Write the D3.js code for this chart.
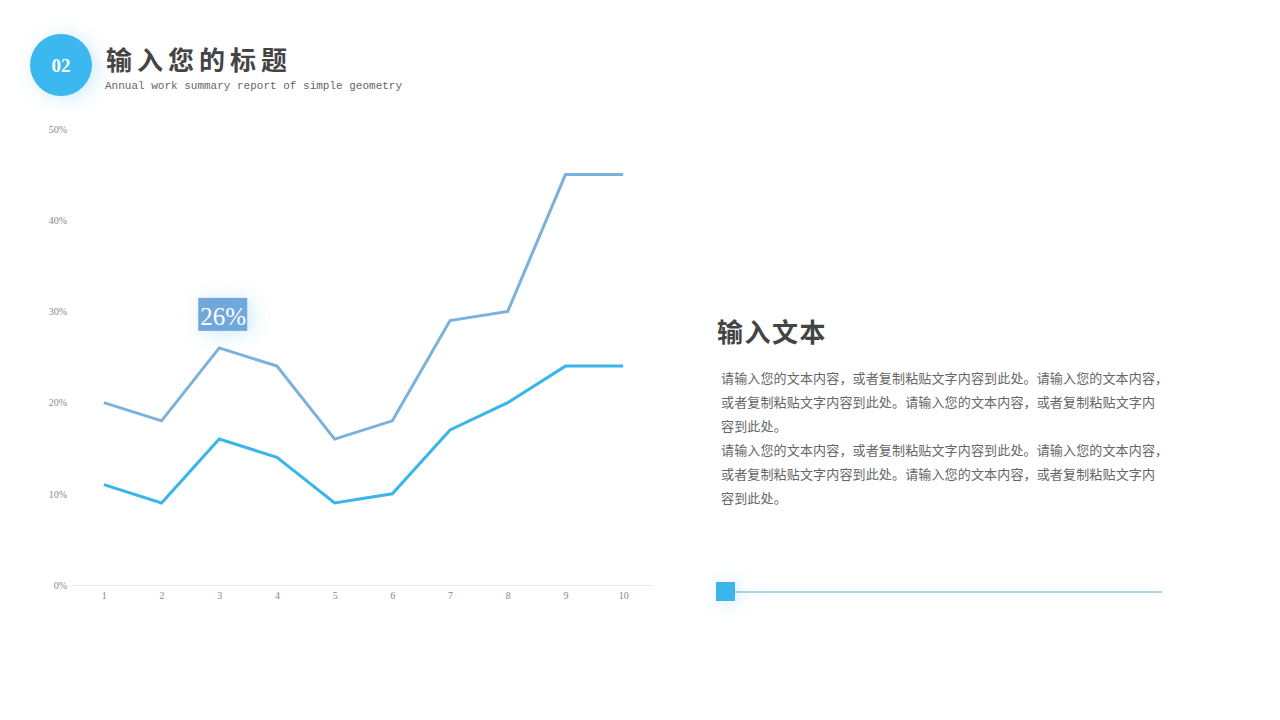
<!DOCTYPE html>
<html>
<head>
<meta charset="utf-8">
<script src="https://cdn.jsdelivr.net/npm/d3@7"></script>
<style>
  html, body { margin: 0; padding: 0; background: #fff; }
  svg { display: block; }
</style>
</head>
<body>
<div id="chart"></div>
<script>
// chart data
const categories = ["1", "2", "3", "4", "5", "6", "7", "8", "9", "10"];
const seriesUpper = [20, 18, 26, 24, 16, 18, 29, 30, 45, 45];
const seriesLower = [11, 9, 16, 14, 9, 10, 17, 20, 24, 24];
const yTicks = [0, 10, 20, 30, 40, 50];
const calloutIndex = 2; // the "26%" label sits over point 3 of the upper line

const bodyLines = [
  "请输入您的文本内容，或者复制粘贴文字内容到此处。请输入您的文本内容，",
  "或者复制粘贴文字内容到此处。请输入您的文本内容，或者复制粘贴文字内",
  "容到此处。",
  "请输入您的文本内容，或者复制粘贴文字内容到此处。请输入您的文本内容，",
  "或者复制粘贴文字内容到此处。请输入您的文本内容，或者复制粘贴文字内",
  "容到此处。"
];

const w = 1280,
  h = 720;
const cjk = "'Noto Sans CJK SC', 'Noto Sans', sans-serif";

const svg = d3.select("#chart").append("svg")
  .attr("width", w)
  .attr("height", h);

// soft glow used by the badge, the callout and the little square
const defs = svg.append("defs");
const glow = defs.append("filter")
  .attr("id", "glow")
  .attr("x", "-100%").attr("y", "-100%")
  .attr("width", "300%").attr("height", "300%");
glow.append("feGaussianBlur")
  .attr("in", "SourceAlpha")
  .attr("stdDeviation", 9);
glow.append("feOffset").attr("dx", 4).attr("dy", 2).attr("result", "b");
glow.append("feFlood").attr("flood-color", "#5ab8e8").attr("flood-opacity", 0.3);
glow.append("feComposite").attr("in2", "b").attr("operator", "in");
const merge = glow.append("feMerge");
merge.append("feMergeNode");
merge.append("feMergeNode").attr("in", "SourceGraphic");

// header
svg.append("circle")
  .attr("cx", 61)
  .attr("cy", 65)
  .attr("r", 31)
  .attr("fill", "#3bb8ef")
  .attr("filter", "url(#glow)");
svg.append("text")
  .attr("x", 61)
  .attr("y", 72)
  .attr("text-anchor", "middle")
  .attr("fill", "#fff")
  .attr("font-family", "'Liberation Serif', serif")
  .attr("font-weight", "bold")
  .attr("font-size", 19)
  .text("02");
svg.append("text")
  .attr("x", 106)
  .attr("y", 70)
  .attr("fill", "#444")
  .attr("font-family", cjk)
  .attr("font-weight", "bold")
  .attr("font-size", 26)
  .attr("letter-spacing", 5)
  .text("输入您的标题");
svg.append("text")
  .attr("x", 105)
  .attr("y", 89)
  .attr("fill", "#666")
  .attr("font-family", "'Liberation Mono', monospace")
  .attr("font-size", 11)
  .text("Annual work summary report of simple geometry");

// line chart
const x = d3.scalePoint()
  .domain(categories)
  .range([75, 652])
  .padding(0.5);
const y = d3.scaleLinear()
  .domain([0, 50])
  .range([585, 129]);

const yAxis = svg.append("g")
  .attr("transform", "translate(72,0)")
  .call(d3.axisLeft(y).tickValues(yTicks).tickSize(0).tickPadding(5)
    .tickFormat((d) => d + "%"));
yAxis.select(".domain").remove();

const xAxis = svg.append("g")
  .attr("transform", `translate(0,${y(0)})`)
  .call(d3.axisBottom(x).tickSize(0).tickPadding(7));
xAxis.select(".domain").attr("stroke", "#e8e8e8").attr("d", "M72,0.5H652");

svg.selectAll(".tick text")
  .attr("fill", "#888")
  .attr("font-family", "'Liberation Serif', serif")
  .attr("font-size", 10);

const line = d3.line()
  .x((d, i) => x(categories[i]))
  .y((d) => y(d));

[[seriesUpper, "#7ab2dc"], [seriesLower, "#3ab5ea"]].forEach(([vals, color]) => {
  svg.append("path")
    .datum(vals)
    .attr("d", line)
    .attr("fill", "none")
    .attr("stroke", color)
    .attr("stroke-width", 3)
    .attr("stroke-linejoin", "miter");
});

// callout box above point 3
const cx = x(categories[calloutIndex]);
const cy = y(seriesUpper[calloutIndex]);
const callout = svg.append("g")
  .attr("transform", `translate(${cx},${cy - 34})`);
callout.append("rect")
  .attr("x", -21)
  .attr("y", -16)
  .attr("width", 49)
  .attr("height", 33)
  .attr("fill", "#6fa8dc")
  .attr("filter", "url(#glow)");
callout.append("text")
  .attr("x", 4)
  .attr("y", 11)
  .attr("text-anchor", "middle")
  .attr("fill", "#fff")
  .attr("font-family", "'Liberation Serif', serif")
  .attr("font-size", 25)
  .text(seriesUpper[calloutIndex] + "%");

// right-hand text block
svg.append("text")
  .attr("x", 717)
  .attr("y", 342)
  .attr("fill", "#444")
  .attr("font-family", cjk)
  .attr("font-weight", "bold")
  .attr("font-size", 26)
  .attr("letter-spacing", 1.5)
  .text("输入文本");

svg.selectAll(".body-line")
  .data(bodyLines)
  .enter()
  .append("text")
  .attr("class", "body-line")
  .attr("x", 721)
  .attr("y", (d, i) => 383 + i * 24)
  .attr("fill", "#666")
  .attr("font-family", cjk)
  .attr("font-size", 13)
  .attr("textLength", (d) => d.length * 13.15)
  .text((d) => d);

// bottom decoration
svg.append("line")
  .attr("x1", 735)
  .attr("x2", 1162)
  .attr("y1", 592)
  .attr("y2", 592)
  .attr("stroke", "#5aa9d2")
  .attr("stroke-width", 1);
svg.append("rect")
  .attr("x", 716)
  .attr("y", 582)
  .attr("width", 19)
  .attr("height", 19)
  .attr("fill", "#3ab5ea")
  .attr("filter", "url(#glow)");
</script>
</body>
</html>
